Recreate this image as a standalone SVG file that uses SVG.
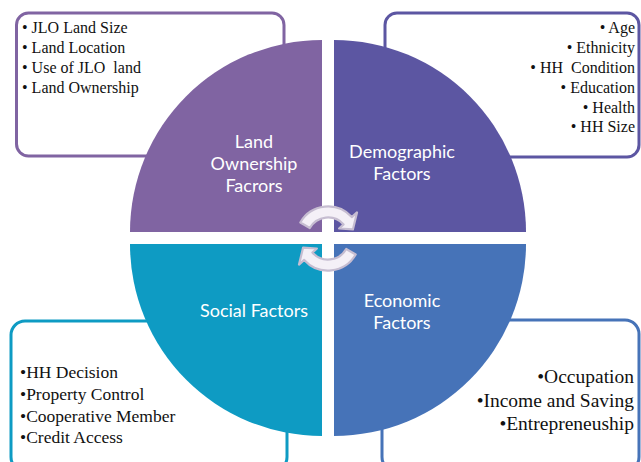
<svg xmlns="http://www.w3.org/2000/svg" width="641" height="462" viewBox="0 0 641 462">
  <style>
    .box { fill: #ffffff; stroke-width: 3; }
    .list { font-family: "Liberation Serif", "Times New Roman", serif; fill: #111111; }
    .label { font-family: Lato, "Open Sans", sans-serif; font-size: 18px; fill: #ffffff; text-anchor: middle; }
    .cyc { fill: #F4F0F7; stroke: #C6BDD1; stroke-width: 2.2; stroke-linejoin: round; }
  </style>
  <defs>
    <!-- curved cycle arrow, centred on the middle of the matrix -->
    <path id="cycleArrow" class="cyc" d="M300.3,222.5 A32,32 0 0 1 351.8,217.1 L357.0,212.4 L352.9,229.4 L339.1,228.5 L343.6,224.4 A21,21 0 0 0 309.8,228.0 Z"/>
  </defs>
  <rect width="641" height="462" fill="#ffffff"/>

  <!-- detail boxes behind the circle -->
  <g id="box-land">
    <rect class="box" x="16.5" y="13" width="267.5" height="143" rx="12" stroke="#8064A2"/>
  </g>
  <g id="box-demographic">
    <rect class="box" x="385" y="13" width="254" height="144" rx="12" stroke="#5C56A2"/>
  </g>
  <g id="box-social">
    <rect class="box" x="11" y="321" width="276" height="150" rx="14" stroke="#0E9BC3"/>
  </g>
  <g id="box-economic">
    <rect class="box" x="382" y="320" width="257" height="151" rx="14" stroke="#4673B8"/>
  </g>

  <!-- quadrants of the circle -->
  <g id="land-ownership">
    <path d="M322,232 H130 A192,192 0 0 1 322,40 Z" fill="#8064A2"/>
    <text class="label" x="254" y="148">Land</text>
    <text class="label" x="254" y="170">Ownership</text>
    <text class="label" x="254" y="192">Facrors</text>
  </g>
  <g id="demographic">
    <path d="M334,232 V40 A192,192 0 0 1 526,232 Z" fill="#5C56A2"/>
    <text class="label" x="402" y="158">Demographic</text>
    <text class="label" x="402" y="180">Factors</text>
  </g>
  <g id="social">
    <path d="M322,244 V436 A192,192 0 0 1 130,244 Z" fill="#0E9BC3"/>
    <text class="label" x="254" y="317">Social Factors</text>
  </g>
  <g id="economic">
    <path d="M334,244 H526 A192,192 0 0 1 334,436 Z" fill="#4673B8"/>
    <text class="label" x="402" y="307">Economic</text>
    <text class="label" x="402" y="329">Factors</text>
  </g>

  <!-- cycle arrows in the centre -->
  <g id="connectors">
    <use href="#cycleArrow"/>
    <use href="#cycleArrow" transform="rotate(180 328 238.5)"/>
  </g>

  <!-- box texts -->
  <g id="list-land" class="list" font-family="Liberation Serif, serif" font-size="16">
    <text x="22" y="33">• JLO Land Size</text>
    <text x="22" y="53">• Land Location</text>
    <text x="22" y="73" xml:space="preserve">• Use of JLO  land</text>
    <text x="22" y="93">• Land Ownership</text>
  </g>
  <g id="list-demographic" class="list" font-family="Liberation Serif, serif" font-size="16" text-anchor="end">
    <text x="635" y="33">• Age</text>
    <text x="635" y="53">• Ethnicity</text>
    <text x="635" y="73" xml:space="preserve">• HH  Condition</text>
    <text x="635" y="93">• Education</text>
    <text x="635" y="113">• Health</text>
    <text x="635" y="132">• HH Size</text>
  </g>
  <g id="list-social" class="list" font-family="Liberation Serif, serif" font-size="17.5">
    <text x="20" y="378">•HH Decision</text>
    <text x="20" y="400">•Property Control</text>
    <text x="20" y="422">•Cooperative Member</text>
    <text x="20" y="443">•Credit Access</text>
  </g>
  <g id="list-economic" class="list" font-family="Liberation Serif, serif" font-size="19.5" text-anchor="end">
    <text x="634" y="383">•Occupation</text>
    <text x="634" y="407">•Income and Saving</text>
    <text x="634" y="430">•Entrepreneuship</text>
  </g>
</svg>
